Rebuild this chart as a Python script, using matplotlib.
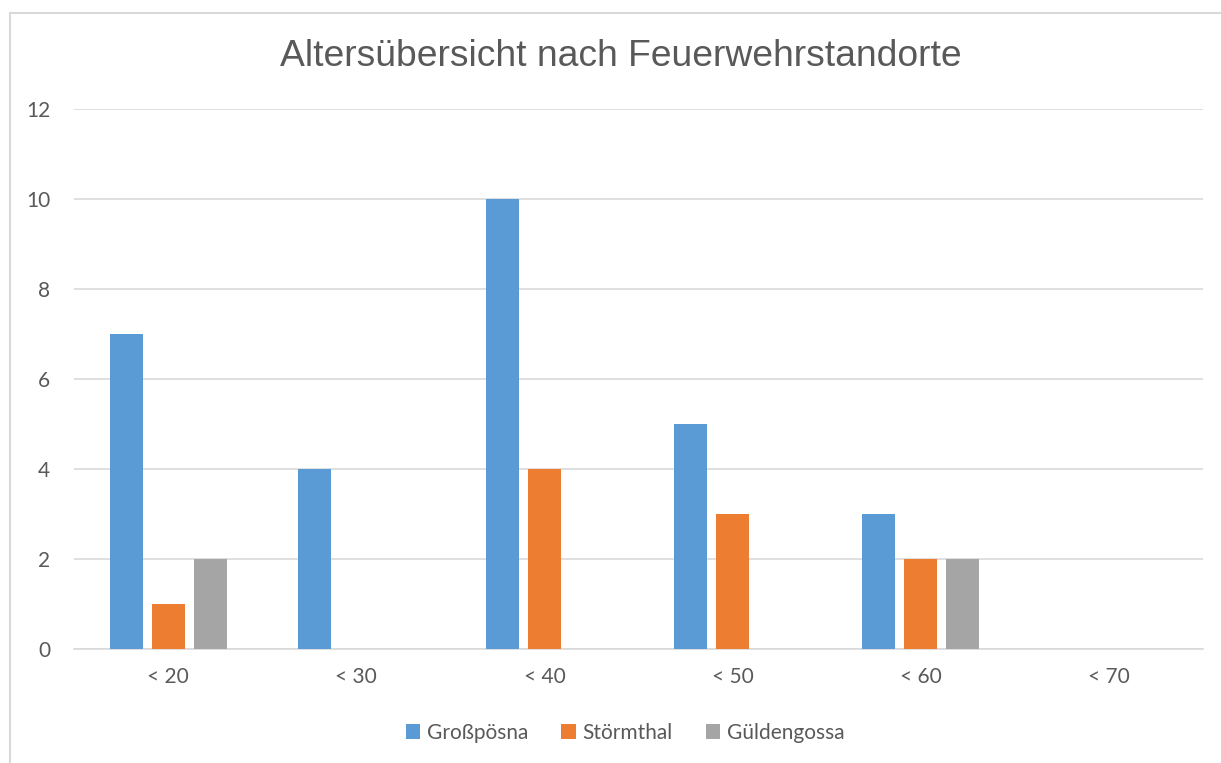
import matplotlib
matplotlib.use('Agg')
import matplotlib.pyplot as plt
import numpy as np
from matplotlib.patches import Rectangle

# Altersgruppen und Anzahl Mitglieder je Standort
categories = ['< 20', '< 30', '< 40', '< 50', '< 60', '< 70']
grosspoesna = [7, 4, 10, 5, 3, 0]
stoermthal = [1, 0, 4, 3, 2, 0]
gueldengossa = [2, 0, 0, 0, 2, 0]
series_names = ['Großpösna', 'Störmthal', 'Güldengossa']
colors = ['#5b9bd5', '#ed7d31', '#a5a5a5']

text_color = '#595959'
plt.rcParams['font.family'] = ['Lato', 'DejaVu Sans']

fig = plt.figure(figsize=(12.21, 7.63), dpi=100)
ax = fig.add_axes([74 / 1221, 1 - 649 / 763, (1203 - 74) / 1221, (649 - 109) / 763])

# Rahmen um das Diagramm
fig.patches.append(Rectangle((10 / 1221, -0.1), 1.2, 1 - 13 / 763 + 0.1,
                             transform=fig.transFigure, fill=False,
                             edgecolor='#d9d9d9', linewidth=1.5))

x = np.arange(len(categories))
width = 0.175
step = 0.223
for i, (vals, name) in enumerate(zip([grosspoesna, stoermthal, gueldengossa], series_names)):
    ax.bar(x + (i - 1) * step, vals, width, color=colors[i], label=name, zorder=3)

ax.set_xlim(-0.5, len(categories) - 0.5)
ax.set_ylim(0, 12)
ax.set_yticks(range(0, 13, 2))
ax.set_xticks(x)
ax.set_xticklabels(categories)
ax.grid(axis='y', color='#d9d9d9', linewidth=1.2, zorder=0)
for s in ['top', 'right', 'left']:
    ax.spines[s].set_visible(False)
ax.spines['bottom'].set_color('#d9d9d9')
ax.spines['bottom'].set_linewidth(1.2)
ax.tick_params(axis='both', length=0, labelsize=15, colors=text_color)
ax.tick_params(axis='x', pad=13)
ax.tick_params(axis='y', pad=17)

fig.text(621 / 1221, 1 - 57 / 763, 'Altersübersicht nach Feuerwehrstandorte',
         ha='center', va='center', fontsize=26.8, color=text_color,
         family=['Liberation Sans', 'DejaVu Sans'])

leg = fig.legend(*ax.get_legend_handles_labels(), loc='center',
                 bbox_to_anchor=(625 / 1221, 1 - 733 / 763),
                 ncol=3, frameon=False, fontsize=15, handlelength=0.7, handleheight=0.7,
                 handletextpad=0.3, columnspacing=1.6)
for t in leg.get_texts():
    t.set_color(text_color)

fig.savefig('out.png', dpi=100)
